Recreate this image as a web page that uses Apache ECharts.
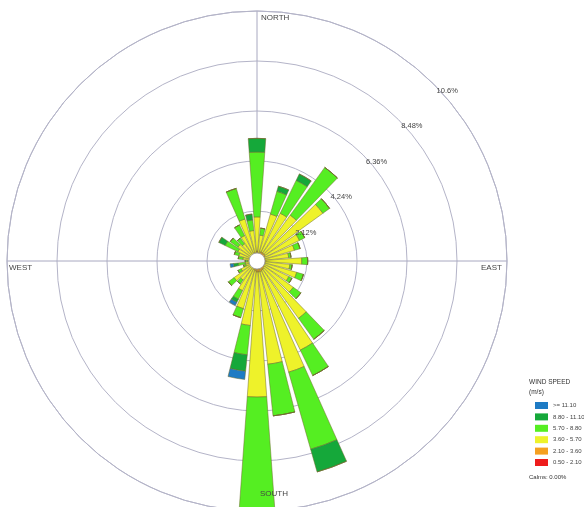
<!DOCTYPE html>
<html>
<head>
<meta charset="utf-8">
<script src="https://cdn.jsdelivr.net/npm/echarts@6/dist/echarts.min.js"></script>
<style>
  html, body { margin: 0; padding: 0; background: #fff; }
  #chart { width: 584px; height: 507px; }
</style>
</head>
<body>
<div id="chart"></div>
<script>
// directions (degrees, clockwise from north)
var directions = ['0','10','20','30','40','50','60','70','80','90','100','110',
  '120','130','140','150','160','170','180','190','200','210','220','230',
  '240','250','260','270','280','290','300','310','320','330','340','350'];

// frequency (%) of each speed class per direction
var s050_210 = [0.12,0.10,0.12,0.12,0.12,0.12,0.10,0.10,0.10,0.10,0.10,0.10,
  0.10,0.10,0.12,0.12,0.12,0.12,0.12,0.12,0.10,0.10,0.08,0.08,
  0.06,0.05,0.05,0.05,0.05,0.06,0.07,0.08,0.07,0.08,0.10,0.10];
var s210_360 = [0.30,0.25,0.30,0.30,0.30,0.30,0.28,0.25,0.25,0.28,0.25,0.25,
  0.25,0.28,0.30,0.32,0.35,0.35,0.35,0.30,0.28,0.25,0.20,0.22,
  0.18,0.15,0.15,0.12,0.15,0.18,0.20,0.22,0.20,0.22,0.28,0.25];
var s360_570 = [1.45,0.75,1.65,1.83,1.98,3.03,1.62,1.30,1.00,1.52,1.05,1.40,
  1.15,1.52,2.58,3.76,4.43,3.93,5.30,2.33,1.72,1.05,0.72,0.90,
  0.51,0.30,0.30,0.23,0.40,0.56,0.63,0.70,0.63,0.90,1.47,0.95];
var s570_880 = [2.75,0.30,1.00,1.55,2.50,0.35,0.25,0.25,0.10,0.25,0.10,0.30,
  0.15,0.40,1.10,1.20,3.40,2.20,4.78,1.25,0.40,0.40,0.20,0.30,
  0.15,0.10,0.30,0.10,0.20,0.20,0.60,0.40,0.30,0.50,1.35,0.45];
var s880_1110 = [0.58,0,0.23,0.30,0,0,0,0,0,0,0,0,
  0,0,0,0,1.00,0,0,0.70,0,0.15,0,0,
  0,0,0.20,0,0,0,0.30,0,0,0,0,0.25];
var s1110 = [0,0,0,0,0,0,0,0,0,0,0,0,
  0,0,0,0,0,0,0,0.35,0,0.15,0,0,
  0,0,0.15,0,0,0,0,0,0,0,0,0];

var speedNames = ['0.50 - 2.10', '2.10 - 3.60', '3.60 - 5.70', '5.70 - 8.80', '8.80 - 11.10', '>= 11.10'];
var speedColors = ['#ee1c1c', '#f5a020', '#eef22a', '#55ee22', '#15a83a', '#1e7bc4'];
var speedData = [s050_210, s210_360, s360_570, s570_880, s880_1110, s1110];

var ringLabels = ['2.12%', '4.24%', '6.36%', '8.48%', '10.6%'];
var center = [257, 261];

var chart = echarts.init(document.getElementById('chart'));

var series = speedNames.map(function (name, i) {
  return {
    name: name,
    type: 'bar',
    coordinateSystem: 'polar',
    polarIndex: 0,
    stack: 'wind',
    barCategoryGap: '18%',
    data: speedData[i],
    itemStyle: { color: speedColors[i], borderColor: '#6f6a2c', borderWidth: 0.5 },
    z: 3
  };
});

// calm circle in the middle
series.push({
  type: 'pie',
  center: center,
  radius: [0, 8],
  silent: true,
  label: { show: false },
  labelLine: { show: false },
  data: [{ value: 1 }],
  itemStyle: { color: '#ffffff', borderColor: '#999', borderWidth: 0.8 },
  z: 10
});

var option = {
  animation: false,
  backgroundColor: '#fff',
  textStyle: { fontFamily: 'Liberation Sans, Arial, sans-serif' },
  polar: [
    { center: center, radius: 250 },
    { center: center, radius: 250 },
    { center: center, radius: 250 }
  ],
  angleAxis: [
    {
      polarIndex: 0,
      type: 'category',
      data: directions,
      startAngle: 95,
      clockwise: true,
      axisLine: { show: false },
      axisTick: { show: false },
      axisLabel: { show: false },
      splitLine: { show: false }
    },
    {
      // compass lines + outer ring
      polarIndex: 1,
      type: 'value',
      min: 0,
      max: 360,
      interval: 90,
      startAngle: 90,
      clockwise: true,
      axisLine: { show: true, lineStyle: { color: '#b4b4c8', width: 1 } },
      axisTick: { show: false },
      axisLabel: { show: false },
      splitLine: { show: true, lineStyle: { color: '#a8a8c0', width: 1 } }
    },
    {
      // only there to point the ring labels to the NE
      polarIndex: 2,
      type: 'value',
      min: 0,
      max: 360,
      startAngle: 45,
      show: false
    }
  ],
  radiusAxis: [
    {
      polarIndex: 0,
      min: 0,
      max: 10.6,
      show: false
    },
    {
      polarIndex: 1,
      min: 0,
      max: 10.6,
      interval: 2.12,
      axisLine: { show: false },
      axisTick: { show: false },
      axisLabel: { show: false },
      splitLine: { show: true, lineStyle: { color: '#b4b4c8', width: 1 } }
    },
    {
      polarIndex: 2,
      min: 0,
      max: 10.6,
      interval: 2.12,
      z: 20,
      axisLine: { show: false },
      axisTick: { show: false },
      splitLine: { show: false },
      axisLabel: {
        show: true,
        fontSize: 7.5,
        color: '#444',
        margin: -4,
        align: 'left',
        verticalAlign: 'top',
        formatter: function (v, idx) { return idx === 0 ? '' : ringLabels[idx - 1]; }
      }
    }
  ],
  legend: {
    orient: 'vertical',
    left: 530,
    top: 397,
    itemWidth: 13,
    itemHeight: 7,
    itemGap: 4.4,
    icon: 'rect',
    itemStyle: { borderWidth: 0 },
    data: speedNames.slice().reverse(),
    textStyle: { fontSize: 6, color: '#444' }
  },
  graphic: [
    { type: 'text', z: 100, left: 261, top: 14, style: { text: 'NORTH', fontSize: 8, fill: '#444' } },
    { type: 'text', z: 100, left: 9, top: 264, style: { text: 'WEST', fontSize: 8, fill: '#444' } },
    { type: 'text', z: 100, left: 481, top: 264, style: { text: 'EAST', fontSize: 8, fill: '#444' } },
    { type: 'text', z: 100, left: 260, top: 490, style: { text: 'SOUTH', fontSize: 8, fill: '#444' } },
    { type: 'text', z: 100, left: 529, top: 377, style: { text: 'WIND SPEED\n(m/s)', fontSize: 6.5, lineHeight: 10, fill: '#333' } },
    { type: 'text', z: 100, left: 529, top: 474, style: { text: 'Calms: 0.00%', fontSize: 6, fill: '#333' } }
  ],
  series: series
};

chart.setOption(option);
</script>
</body>
</html>
